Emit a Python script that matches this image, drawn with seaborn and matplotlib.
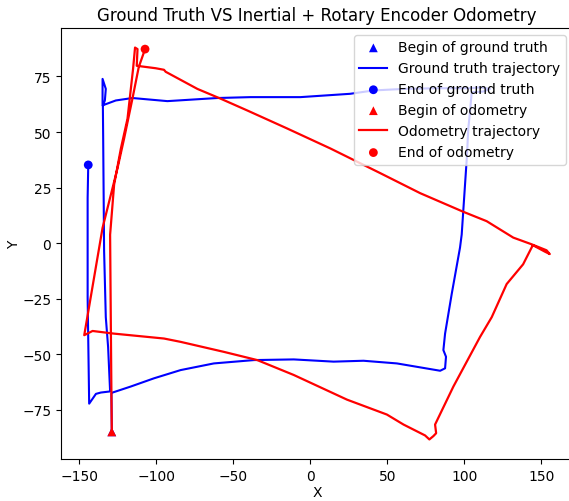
import matplotlib
matplotlib.use("Agg")
import matplotlib.pyplot as plt
import seaborn as sns
import pandas as pd

# Ground truth trajectory
gt_x = [-129.0, -129.25, -128.5, -116.7, -101.6, -84.3, -62.7, -36.7, -10.8, 15.1, 34.5, 56.2,
        84.3, 87.5, 88.1, 86.4, 87.5, 91.8, 97.2, 98.3, 101.6, 102.6, 103.7, 104.8, 112.1,
        116.7, 110.2, 103.7, 82.1, 60.5, 41.0, 25.9, -6.5, -38.9, -60.5, -92.9, -115.6,
        -126.4, -135.0, -135.0, -132.9, -133.5, -134.8, -134.6, -134.0, -132.9, -131.4,
        -130.1, -136.1, -139.3, -143.7, -144.7, -144.7, -144.3]
gt_y = [-84.9, -67.6, -67.2, -64.5, -60.8, -57.1, -54.1, -52.6, -52.3, -53.3, -52.9, -54.1,
        -57.4, -56.3, -51.1, -48.1, -40.7, -22.9, -2.0, 3.9, 38.2, 51.6, 59.2, 67.9, 68.2,
        69.4, 70.1, 69.7, 69.7, 69.4, 68.7, 67.2, 65.7, 65.7, 65.3, 63.9, 65.3,
        64.2, 62.0, 73.9, 69.4, 64.2, 61.8, 47.1, -3.5, -33.3, -46.7,
        -66.7, -67.2, -67.8, -72.2, -24.3, 20.3, 35.2]

# Inertial + rotary encoder odometry trajectory
od_x = [-129.0, -129.25, -129.6, -130.1, -127.5, -123.1, -118.8, -115.2, -113.9, -112.3, -112.8,
        -100.5, -95.1, -94.0, -73.4, -58.3, -41.0, -15.1, 13.0, 45.4, 71.3, 99.4, 114.5,
        131.8, 143.7, 153.4, 155.5, 152.3, 144.5, 138.2, 127.5, 117.8, 110.2, 92.9, 81.0,
        81.7, 79.9, 77.3, 74.5, 60.5, 49.7, 23.8, -10.8, -34.5, -56.2, -84.3, -95.1,
        -127.5, -141.5, -146.9, -135.0, -125.3, -121.0, -115.6, -111.5, -107.4]
od_y = [-84.9, -67.6, -39.1, 3.8, 26.3, 42.6, 56.0, 78.3, 88.0, 87.3, 79.8,
        78.7, 78.0, 77.1, 69.4, 65.0, 59.7, 51.6, 42.6, 31.5, 22.5, 14.1, 9.9,
        2.5, -0.5, -3.2, -4.9, -3.8, -0.9, -9.5, -18.4, -33.3, -42.2, -64.5, -81.6,
        -85.5, -86.8, -88.3, -86.5, -81.6, -77.1, -70.4, -59.3, -52.6, -48.9, -44.4, -42.9,
        -40.7, -39.5, -41.4, 6.9, 33.7, 47.1, 65.0, 79.2, 87.3]

labels = ["Begin of ground truth", "Ground truth trajectory", "End of ground truth",
          "Begin of odometry", "Odometry trajectory", "End of odometry"]

gt = pd.DataFrame({"X": gt_x, "Y": gt_y})
od = pd.DataFrame({"X": od_x, "Y": od_y})

fig = plt.figure(figsize=(5.69, 5.02), dpi=100)
ax = fig.add_axes([61 / 569, 1 - 460 / 502, (573 - 61) / 569, (460 - 29) / 502])

sns.scatterplot(x=gt_x[:1], y=gt_y[:1], marker="^", color="blue", s=40,
                edgecolor="none", label=labels[0], ax=ax, zorder=2)
sns.lineplot(data=gt, x="X", y="Y", sort=False, estimator=None, color="blue",
             linewidth=1.5, label=labels[1], ax=ax)
sns.scatterplot(x=gt_x[-1:], y=gt_y[-1:], marker="o", color="blue", s=40,
                edgecolor="none", label=labels[2], ax=ax, zorder=2)
sns.scatterplot(x=od_x[:1], y=od_y[:1], marker="^", color="red", s=40,
                edgecolor="none", label=labels[3], ax=ax, zorder=2)
sns.lineplot(data=od, x="X", y="Y", sort=False, estimator=None, color="red",
             linewidth=1.6, label=labels[4], ax=ax)
sns.scatterplot(x=od_x[-1:], y=od_y[-1:], marker="o", color="red", s=40,
                edgecolor="none", label=labels[5], ax=ax, zorder=2)

ax.set_xlim(-162, 170.6)
ax.set_ylim(-97.1, 96.8)
ax.set_xlabel("X", labelpad=2)
ax.set_ylabel("Y", labelpad=1)
ax.set_title("Ground Truth VS Inertial + Rotary Encoder Odometry")
ax.legend(loc="upper right")

fig.savefig("out.png", dpi=100)
